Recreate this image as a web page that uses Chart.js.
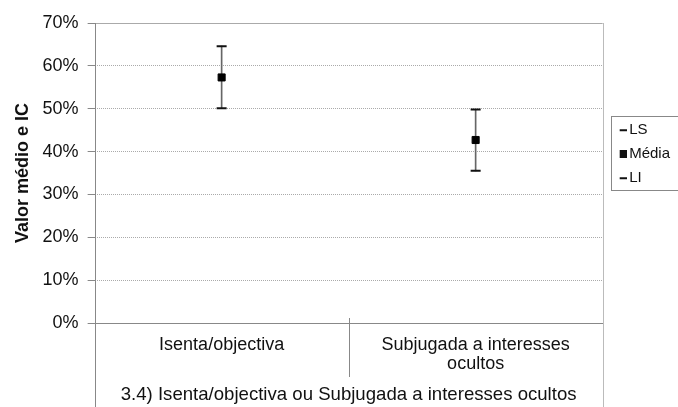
<!DOCTYPE html>
<html><head><meta charset="utf-8">
<script src="https://cdn.jsdelivr.net/npm/chart.js@4"></script>
<style>html,body{margin:0;padding:0;background:#fff}#wrap{width:678px;height:407px}</style>
</head><body><div id="wrap"><canvas id="c" width="678" height="407"></canvas></div>
<script>
const categories = ["Isenta/objectiva", ["Subjugada a interesses", "ocultos"]];
const lsValues = [64.6, 49.8];
const meanValues = [57.3, 42.7];
const liValues = [50.1, 35.5];
const yTicksMax = 70;
const xTitle = "3.4) Isenta/objectiva ou Subjugada a interesses ocultos";
const yTitle = "Valor médio e IC";
const FONT = "'Liberation Sans', Arial, sans-serif";

function legendGlyph(kind) {
  const c = document.createElement('canvas');
  c.width = 20; c.height = 8;
  const g = c.getContext('2d');
  g.fillStyle = '#111';
  if (kind === 'rect') g.fillRect(13, 0, 7, 8); else g.fillRect(13, 3, 7, 2);
  return c;
}

const framePlugin = {
  id: 'frame',
  afterDraw(chart) {
    const {ctx, chartArea: a, scales: {x}} = chart;
    const H = chart.height;
    ctx.save();
    ctx.lineWidth = 1;
    ctx.strokeStyle = '#bbb';
    ctx.beginPath(); ctx.moveTo(Math.round(a.right) + 0.5, a.top); ctx.lineTo(Math.round(a.right) + 0.5, H); ctx.stroke();
    ctx.strokeStyle = '#888';
    ctx.beginPath(); ctx.moveTo(Math.round(a.left) + 0.5, a.top); ctx.lineTo(Math.round(a.left) + 0.5, H); ctx.stroke();
    const mid = Math.round(x.getPixelForValue(0.5)) + 0.5;
    ctx.beginPath(); ctx.moveTo(mid, a.bottom - 5); ctx.lineTo(mid, a.bottom + 54); ctx.stroke();
    const lg = chart.legend;
    if (lg && lg.legendHitBoxes && lg.legendHitBoxes.length) {
      const hb = lg.legendHitBoxes;
      const top = hb[0].top - 6.5, bottom = hb[hb.length - 1].top + hb[hb.length - 1].height + 4.5;
      const left = hb[0].left - 1;
      ctx.strokeStyle = '#888';
      ctx.strokeRect(Math.round(left) + 0.5, Math.round(top) + 0.5, 200, Math.round(bottom - top));
    }
    ctx.restore();
  }
};

new Chart(document.getElementById('c'), {
  data: {
    labels: categories,
    datasets: [
      { type: 'bar', label: 'IC', data: liValues.map((v, i) => [v, lsValues[i]]),
        backgroundColor: '#666', borderWidth: 0, barThickness: 1, order: 3 },
      { type: 'line', label: 'LS', data: lsValues, showLine: false, pointStyle: 'line',
        pointRadius: 5, borderWidth: 2, borderColor: '#111', backgroundColor: '#111', order: 1 },
      { type: 'line', label: 'Média', data: meanValues, showLine: false, pointStyle: 'rect',
        pointRadius: 5, borderWidth: 1, borderColor: '#000', backgroundColor: '#000', order: 1 },
      { type: 'line', label: 'LI', data: liValues, showLine: false, pointStyle: 'line',
        pointRadius: 5, borderWidth: 2, borderColor: '#111', backgroundColor: '#111', order: 1 }
    ]
  },
  options: {
    responsive: false,
    animation: false,
    layout: { padding: { top: 23, left: 12, right: -2, bottom: 1 } },
    plugins: {
      tooltip: { enabled: false },
      legend: {
        position: 'right', align: 'start',
        title: { display: true, text: ' ', font: { size: 1 }, padding: { top: 89.5, bottom: 0 } },
        labels: {
          usePointStyle: true, pointStyleWidth: 10, boxWidth: 10, boxHeight: 7, padding: 9, color: '#111',
          font: { family: FONT, size: 15 },
          filter: (item) => item.text !== 'IC',
          generateLabels: (chart) => {
            const items = Chart.defaults.plugins.legend.labels.generateLabels(chart);
            items.forEach(it => { it.pointStyle = legendGlyph(it.pointStyle === 'rect' ? 'rect' : 'line'); });
            return items;
          }
        }
      }
    },
    scales: {
      x: {
        type: 'category', offset: true,
        grid: { display: false, offset: true, drawTicks: false, tickLength: 0 },
        border: { display: true, color: '#888' },
        ticks: { color: '#111', font: { family: FONT, size: 18, lineHeight: 1.05 }, padding: 12.5, maxRotation: 0, autoSkip: false },
        title: { display: true, text: xTitle, color: '#111', font: { family: FONT, size: 18.6, lineHeight: 1.0 }, padding: { top: 0.1, bottom: 1.5 } }
      },
      y: {
        min: 0, max: yTicksMax,
        ticks: { stepSize: 10, color: '#111', font: { family: FONT, size: 18 }, padding: 9,
                 callback: (v) => v + '%' },
        grid: { color: '#aaa', tickColor: '#888', tickLength: 7, drawTicks: true },
        border: { display: false, dash: (ctx) => (ctx.tick && (ctx.tick.value === 0 || ctx.tick.value === yTicksMax)) ? [] : [1, 1] },
        title: { display: true, text: yTitle, color: '#111', font: { family: FONT, size: 18, weight: 'bold' }, padding: { top: 0, bottom: 0 } }
      }
    }
  },
  plugins: [framePlugin]
});
</script></body></html>
